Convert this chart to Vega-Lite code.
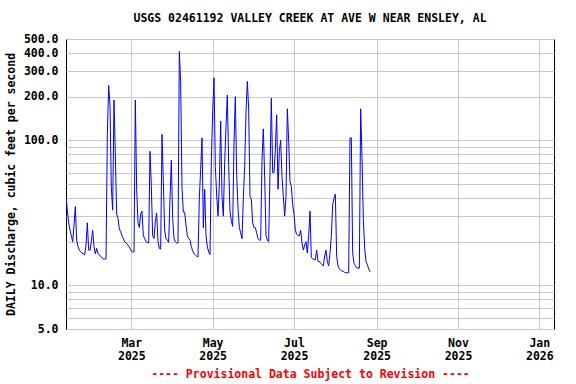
{
"$schema": "https://vega.github.io/schema/vega-lite/v6.json",
"width": 488, "height": 290,
"autosize": "none",
"padding": {"left": 66, "top": 39, "right": 22, "bottom": 55},
"background": "white",
"config": {"view": {"stroke": "black", "strokeWidth": 1}, "font": "DejaVu Sans Mono"},
"title": {"text": "USGS 02461192 VALLEY CREEK AT AVE W NEAR ENSLEY, AL", "font": "DejaVu Sans Mono", "fontSize": 11.5, "fontWeight": "bold", "color": "black", "anchor": "middle", "offset": 9},
"data": {"values": [
{"date":"2025-01-11","q":41},{"date":"2025-01-12","q":33},{"date":"2025-01-13","q":27},{"date":"2025-01-14","q":24},{"date":"2025-01-15","q":22},{"date":"2025-01-16","q":20},{"date":"2025-01-17","q":26},{"date":"2025-01-18","q":35},{"date":"2025-01-19","q":20.5},{"date":"2025-01-20","q":18.5},{"date":"2025-01-21","q":17.5},{"date":"2025-01-22","q":17},{"date":"2025-01-23","q":16.7},{"date":"2025-01-24","q":16.5},{"date":"2025-01-25","q":16.2},{"date":"2025-01-26","q":19},{"date":"2025-01-27","q":27},{"date":"2025-01-28","q":17.5},{"date":"2025-01-29","q":17.5},{"date":"2025-01-30","q":20},{"date":"2025-01-31","q":24},
{"date":"2025-02-01","q":18.5},{"date":"2025-02-02","q":16.5},{"date":"2025-02-03","q":18},{"date":"2025-02-04","q":16.5},{"date":"2025-02-05","q":16.3},{"date":"2025-02-06","q":15.8},{"date":"2025-02-07","q":15.5},{"date":"2025-02-08","q":15.2},{"date":"2025-02-09","q":15.2},{"date":"2025-02-10","q":15.2},{"date":"2025-02-11","q":110},{"date":"2025-02-12","q":240},{"date":"2025-02-13","q":173},{"date":"2025-02-14","q":47},{"date":"2025-02-15","q":33},{"date":"2025-02-16","q":190},{"date":"2025-02-17","q":80},{"date":"2025-02-18","q":31},{"date":"2025-02-19","q":29},{"date":"2025-02-20","q":24.5},{"date":"2025-02-21","q":23.5},{"date":"2025-02-22","q":22},{"date":"2025-02-23","q":21},{"date":"2025-02-24","q":20},{"date":"2025-02-25","q":19.6},{"date":"2025-02-26","q":19.2},{"date":"2025-02-27","q":18.6},{"date":"2025-02-28","q":18},
{"date":"2025-03-01","q":17.2},{"date":"2025-03-02","q":17},{"date":"2025-03-03","q":17},{"date":"2025-03-04","q":190},{"date":"2025-03-05","q":46},{"date":"2025-03-06","q":27},{"date":"2025-03-07","q":25},{"date":"2025-03-08","q":31},{"date":"2025-03-09","q":32.5},{"date":"2025-03-10","q":22},{"date":"2025-03-11","q":21},{"date":"2025-03-12","q":20},{"date":"2025-03-13","q":19.8},{"date":"2025-03-14","q":19.6},{"date":"2025-03-15","q":84},{"date":"2025-03-16","q":48},{"date":"2025-03-17","q":22},{"date":"2025-03-18","q":21},{"date":"2025-03-19","q":27.6},{"date":"2025-03-20","q":31.5},{"date":"2025-03-21","q":20},{"date":"2025-03-22","q":18},{"date":"2025-03-23","q":17.8},{"date":"2025-03-24","q":110},{"date":"2025-03-25","q":52},{"date":"2025-03-26","q":24},{"date":"2025-03-27","q":21},{"date":"2025-03-28","q":20.5},{"date":"2025-03-29","q":19.8},{"date":"2025-03-30","q":39},{"date":"2025-03-31","q":73},
{"date":"2025-04-01","q":29},{"date":"2025-04-02","q":21},{"date":"2025-04-03","q":20},{"date":"2025-04-04","q":19.6},{"date":"2025-04-05","q":19.6},{"date":"2025-04-06","q":410},{"date":"2025-04-07","q":250},{"date":"2025-04-08","q":47},{"date":"2025-04-09","q":32},{"date":"2025-04-10","q":32},{"date":"2025-04-11","q":26},{"date":"2025-04-12","q":22},{"date":"2025-04-13","q":21},{"date":"2025-04-14","q":20.5},{"date":"2025-04-15","q":18.5},{"date":"2025-04-16","q":17.3},{"date":"2025-04-17","q":16.5},{"date":"2025-04-18","q":16.2},{"date":"2025-04-19","q":15.9},{"date":"2025-04-20","q":15.7},{"date":"2025-04-21","q":40},{"date":"2025-04-22","q":63},{"date":"2025-04-23","q":104},{"date":"2025-04-24","q":25},{"date":"2025-04-25","q":46},{"date":"2025-04-26","q":22},{"date":"2025-04-27","q":18.5},{"date":"2025-04-28","q":17},{"date":"2025-04-29","q":16.3},{"date":"2025-04-30","q":72},
{"date":"2025-05-01","q":157},{"date":"2025-05-02","q":270},{"date":"2025-05-03","q":66},{"date":"2025-05-04","q":42},{"date":"2025-05-05","q":30},{"date":"2025-05-06","q":50},{"date":"2025-05-07","q":136},{"date":"2025-05-08","q":41},{"date":"2025-05-09","q":30},{"date":"2025-05-10","q":70},{"date":"2025-05-11","q":125},{"date":"2025-05-12","q":205},{"date":"2025-05-13","q":68},{"date":"2025-05-14","q":32},{"date":"2025-05-15","q":28},{"date":"2025-05-16","q":25.5},{"date":"2025-05-17","q":96},{"date":"2025-05-18","q":200},{"date":"2025-05-19","q":58},{"date":"2025-05-20","q":34},{"date":"2025-05-21","q":25},{"date":"2025-05-22","q":23},{"date":"2025-05-23","q":21},{"date":"2025-05-24","q":40},{"date":"2025-05-25","q":66},{"date":"2025-05-26","q":157},{"date":"2025-05-27","q":255},{"date":"2025-05-28","q":165},{"date":"2025-05-29","q":41},{"date":"2025-05-30","q":39},{"date":"2025-05-31","q":27},
{"date":"2025-06-01","q":25},{"date":"2025-06-02","q":25},{"date":"2025-06-03","q":23},{"date":"2025-06-04","q":21},{"date":"2025-06-05","q":20.5},{"date":"2025-06-06","q":20.5},{"date":"2025-06-07","q":73},{"date":"2025-06-08","q":120},{"date":"2025-06-09","q":56},{"date":"2025-06-10","q":22},{"date":"2025-06-11","q":20.5},{"date":"2025-06-12","q":20},{"date":"2025-06-13","q":60},{"date":"2025-06-14","q":195},{"date":"2025-06-15","q":60},{"date":"2025-06-16","q":60},{"date":"2025-06-17","q":87},{"date":"2025-06-18","q":150},{"date":"2025-06-19","q":46},{"date":"2025-06-20","q":84},{"date":"2025-06-21","q":100},{"date":"2025-06-22","q":56},{"date":"2025-06-23","q":41},{"date":"2025-06-24","q":30},{"date":"2025-06-25","q":41},{"date":"2025-06-26","q":165},{"date":"2025-06-27","q":100},{"date":"2025-06-28","q":52},{"date":"2025-06-29","q":48},{"date":"2025-06-30","q":36},
{"date":"2025-07-01","q":31},{"date":"2025-07-02","q":24},{"date":"2025-07-03","q":22.5},{"date":"2025-07-04","q":22},{"date":"2025-07-05","q":22},{"date":"2025-07-06","q":24},{"date":"2025-07-07","q":19.6},{"date":"2025-07-08","q":17.5},{"date":"2025-07-09","q":19},{"date":"2025-07-10","q":20},{"date":"2025-07-11","q":16.7},{"date":"2025-07-12","q":22},{"date":"2025-07-13","q":32.5},{"date":"2025-07-14","q":15.5},{"date":"2025-07-15","q":15.3},{"date":"2025-07-16","q":15},{"date":"2025-07-17","q":15},{"date":"2025-07-18","q":17.5},{"date":"2025-07-19","q":14.6},{"date":"2025-07-20","q":14.6},{"date":"2025-07-21","q":14.2},{"date":"2025-07-22","q":13.9},{"date":"2025-07-23","q":13.6},{"date":"2025-07-24","q":15.9},{"date":"2025-07-25","q":17.5},{"date":"2025-07-26","q":14.6},{"date":"2025-07-27","q":13.6},{"date":"2025-07-28","q":16.7},{"date":"2025-07-29","q":22},{"date":"2025-07-30","q":36},{"date":"2025-07-31","q":40},
{"date":"2025-08-01","q":42.5},{"date":"2025-08-02","q":15.9},{"date":"2025-08-03","q":13.6},{"date":"2025-08-04","q":13},{"date":"2025-08-05","q":12.8},{"date":"2025-08-06","q":12.5},{"date":"2025-08-07","q":12.5},{"date":"2025-08-08","q":12.3},{"date":"2025-08-09","q":12.2},{"date":"2025-08-10","q":12.2},{"date":"2025-08-11","q":12.2},{"date":"2025-08-12","q":104},{"date":"2025-08-13","q":104},{"date":"2025-08-14","q":16.7},{"date":"2025-08-15","q":14.2},{"date":"2025-08-16","q":13.7},{"date":"2025-08-17","q":13.2},{"date":"2025-08-18","q":13.2},{"date":"2025-08-19","q":13.1},{"date":"2025-08-20","q":165},{"date":"2025-08-21","q":76},{"date":"2025-08-22","q":28.5},{"date":"2025-08-23","q":18},{"date":"2025-08-24","q":14.6},{"date":"2025-08-25","q":13.9},{"date":"2025-08-26","q":13},{"date":"2025-08-27","q":12.4}
]},
"mark": {"type": "line", "color": "#0000FF", "strokeWidth": 1, "interpolate": "linear", "clip": true},
"encoding": {
  "x": {"field": "date", "type": "temporal",
    "scale": {"type": "utc", "domain": [{"year": 2025, "month": 1, "date": 11, "utc": true}, {"year": 2026, "month": 1, "date": 12, "utc": true}]},
    "axis": {"values": [{"year": 2025, "month": 3, "date": 1, "utc": true}, {"year": 2025, "month": 5, "date": 1, "utc": true}, {"year": 2025, "month": 7, "date": 1, "utc": true}, {"year": 2025, "month": 9, "date": 1, "utc": true}, {"year": 2025, "month": 11, "date": 1, "utc": true}, {"year": 2026, "month": 1, "date": 1, "utc": true}],
      "labelExpr": "[utcFormat(datum.value, '%b'), utcFormat(datum.value, '%Y')]",
      "grid": true, "gridColor": "#c8c8c8", "gridWidth": 1, "ticks": false, "domain": false,
      "labelFont": "DejaVu Sans Mono", "labelFontWeight": "bold", "labelFontSize": 11.5, "labelColor": "black", "labelPadding": 8, "labelLineHeight": 13, "labelBaseline": "top",
      "labelFlush": false, "labelOverlap": false, "labelBound": false,
      "title": "---- Provisional Data Subject to Revision ----", "titleColor": "#FF0000", "titleFont": "DejaVu Sans Mono", "titleFontWeight": "bold", "titleFontSize": 11.5, "titlePadding": 7}},
  "y": {"field": "q", "type": "quantitative",
    "scale": {"type": "log", "domain": [5, 500]},
    "axis": {"values": [5, 6, 7, 8, 9, 10, 20, 30, 40, 50, 60, 70, 80, 90, 100, 200, 300, 400, 500],
      "labelExpr": "indexof([5, 10, 100, 200, 300, 400, 500], datum.value) >= 0 ? format(datum.value, '.1f') : ''",
      "grid": true, "gridColor": "#c8c8c8", "gridWidth": 1, "ticks": false, "domain": false,
      "labelFont": "DejaVu Sans Mono", "labelFontWeight": "bold", "labelFontSize": 11.5, "labelColor": "black", "labelPadding": 8,
      "labelFlush": false, "labelOverlap": false, "labelBound": false,
      "title": "DAILY Discharge, cubic feet per second", "titleColor": "black", "titleFont": "DejaVu Sans Mono", "titleFontWeight": "bold", "titleFontSize": 11.5, "titlePadding": 7}}
}
}
